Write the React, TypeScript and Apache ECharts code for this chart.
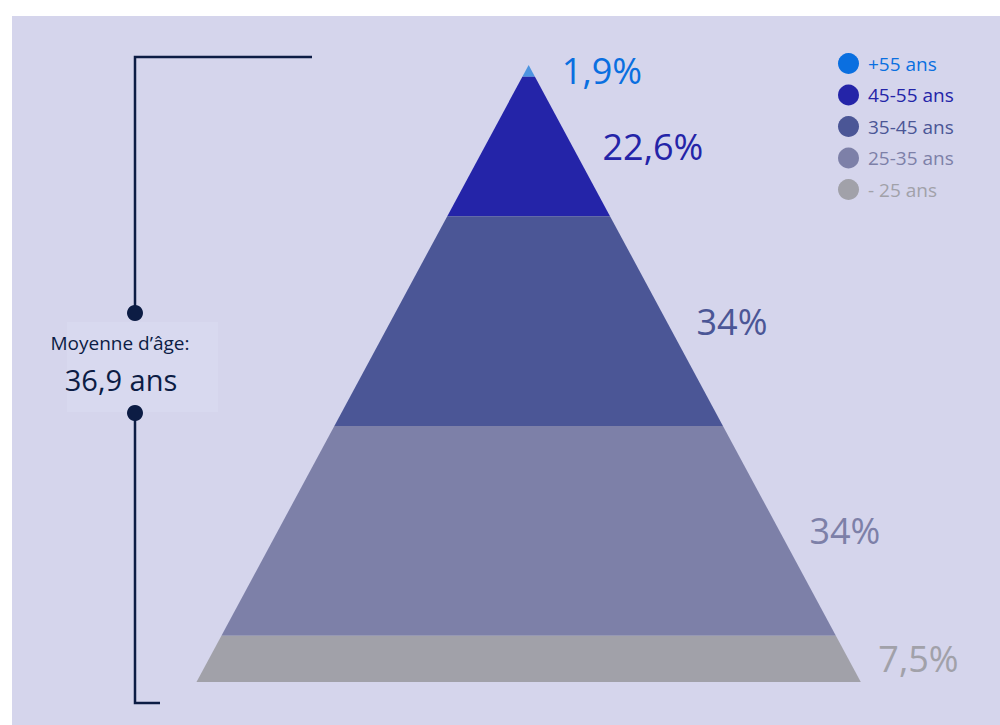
import React, { useEffect, useRef } from "react";
import * as echarts from "echarts";

const categories = ["+55 ans", "45-55 ans", "35-45 ans", "25-35 ans", "- 25 ans"];
const values = [1.9, 22.6, 34, 34, 7.5];
const fillColors = ["#4d94e0", "#2424a8", "#4b5696", "#7d80a8", "#a1a1a9"];
const textColors = ["#0a6fe0", "#2424a8", "#4b5696", "#7d80a8", "#a1a1a9"];
const averageLabel = "Moyenne d’âge:";
const averageValue = "36,9 ans";

const FONT = "'Open Sans', 'Noto Sans', sans-serif";

export default function App() {
  const ref = useRef<HTMLDivElement>(null);
  useEffect(() => {
    if (!ref.current) return;
    const chart = echarts.init(ref.current, undefined, { renderer: "svg" });
    const cum: number[] = [];
    let acc = 0;
    values.forEach((v) => {
      cum.push(acc);
      acc += v;
    });
    const series = categories.map((name, i) => ({
      type: "custom",
      name,
      itemStyle: { color: fillColors[i] },
      data: [[cum[i], cum[i] + values[i], values[i]]],
      renderItem: (params: any, api: any) => {
        const s = api.value(0);
        const e = api.value(1);
        const v = api.value(2);
        const p1 = api.coord([-s / 2, s]);
        const p2 = api.coord([s / 2, s]);
        const p3 = api.coord([e / 2, e]);
        const p4 = api.coord([-e / 2, e]);
        const mid = (s + e) / 2;
        const pm = api.coord([mid / 2, mid]);
        return {
          type: "group",
          children: [
            {
              type: "polygon",
              shape: { points: [p1, p2, p3, p4] },
              style: { fill: fillColors[i] },
            },
            {
              type: "text",
              x: pm[0] + 30,
              y: pm[1],
              style: {
                text: String(v).replace(".", ",") + "%",
                fill: textColors[i],
                fontSize: 36,
                fontFamily: FONT,
                verticalAlign: "middle",
                align: "left",
              },
            },
          ],
        };
      },
    }));
    const lineColor = "#0c1c44";
    chart.setOption({
      animation: false,
      backgroundColor: "#ffffff",
      grid: { left: 196.5, right: 139.2, top: 65, bottom: 43 },
      xAxis: { type: "value", min: -50, max: 50, show: false },
      yAxis: { type: "value", min: 0, max: 100, inverse: true, show: false },
      legend: {
        orient: "vertical",
        left: 838,
        top: 53,
        padding: 0,
        icon: "circle",
        itemWidth: 21,
        itemHeight: 21,
        itemGap: 10.5,
        selectedMode: false,
        data: categories.map((name, i) => ({
          name,
          itemStyle: { color: textColors[i] },
          textStyle: {
            color: textColors[i],
            fontSize: 19,
            fontFamily: FONT,
            padding: [0, 0, 0, 4],
          },
        })),
      },
      graphic: [
        {
          type: "rect",
          z: 0,
          shape: { x: 12, y: 16, width: 988, height: 709 },
          style: { fill: "#d5d5ec" },
        },
        {
          type: "rect",
          z: 1,
          shape: { x: 67, y: 322, width: 151, height: 90 },
          style: { fill: "#d8d9ef" },
        },
        {
          type: "polyline",
          z: 1,
          shape: { points: [[312, 57], [135, 57], [135, 313]] },
          style: { stroke: lineColor, lineWidth: 2.5, fill: "none" },
        },
        {
          type: "polyline",
          z: 1,
          shape: { points: [[135, 413], [135, 703], [160, 703]] },
          style: { stroke: lineColor, lineWidth: 2.5, fill: "none" },
        },
        { type: "circle", z: 2, shape: { cx: 135, cy: 313, r: 8 }, style: { fill: lineColor } },
        { type: "circle", z: 2, shape: { cx: 135, cy: 413, r: 8 }, style: { fill: lineColor } },
        {
          type: "text",
          z: 2,
          x: 120,
          y: 343,
          style: {
            text: averageLabel,
            fill: lineColor,
            fontSize: 19,
            fontFamily: FONT,
            align: "center",
            verticalAlign: "middle",
          },
        },
        {
          type: "text",
          z: 2,
          x: 121,
          y: 379,
          style: {
            text: averageValue,
            fill: lineColor,
            fontSize: 29,
            fontFamily: FONT,
            align: "center",
            verticalAlign: "middle",
          },
        },
      ],
      series,
    });
    return () => chart.dispose();
  }, []);
  return (
    <div
      ref={ref}
      style={{ position: "absolute", left: 0, top: 0, width: 1000, height: 725 }}
    />
  );
}
